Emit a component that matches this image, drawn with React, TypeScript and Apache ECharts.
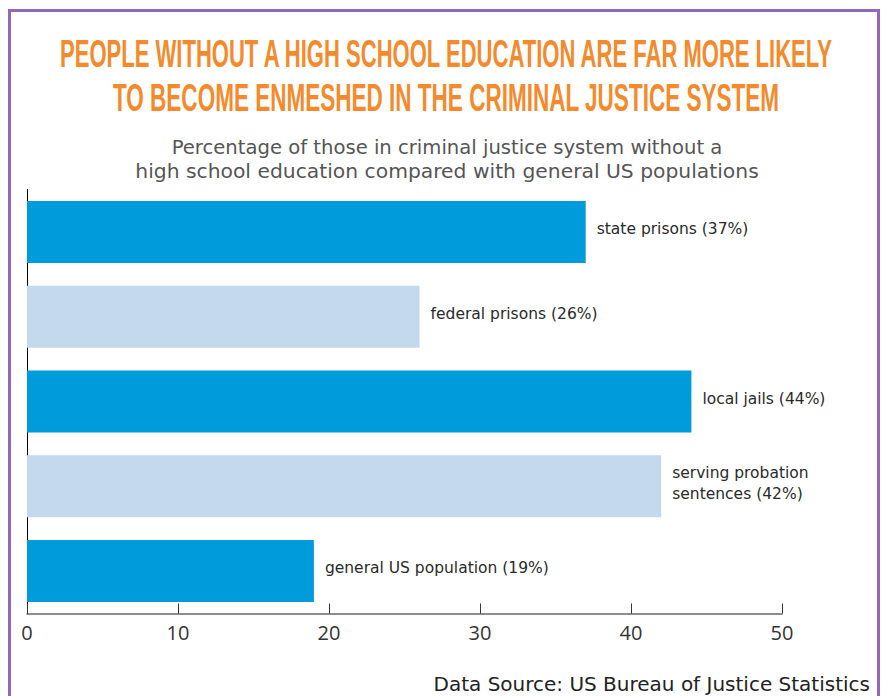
import React, { useEffect, useRef } from "react";
import * as echarts from "echarts";

const categories = ["state prisons", "federal prisons", "local jails", "serving probation sentences", "general US population"];
const values = [37, 26, 44, 42, 19];
const barLabels = ["state prisons (37%)", "federal prisons (26%)", "local jails (44%)", "serving probation\nsentences (42%)", "general US population (19%)"];
const barColors = ["#009BDB", "#C4D9EE", "#009BDB", "#C4D9EE", "#009BDB"];
const titleLines = ["PEOPLE WITHOUT A HIGH SCHOOL EDUCATION ARE FAR MORE LIKELY", "TO BECOME ENMESHED IN THE CRIMINAL JUSTICE SYSTEM"];
const subtitleLines = ["Percentage of those in criminal justice system without a", "high school education compared with general US populations"];
const sourceText = "Data Source: US Bureau of Justice Statistics";

function measure(text: string, font: string): number {
  const c = document.createElement("canvas").getContext("2d");
  if (!c) return 1;
  c.font = font;
  return c.measureText(text).width || 1;
}

export default function App() {
  const ref = useRef<HTMLDivElement>(null);
  useEffect(() => {
    document.body.style.margin = "0";
    if (!ref.current) return;
    const chart = echarts.init(ref.current, null, { renderer: "svg" });
    const titleFont = "bold 38px 'Liberation Sans Narrow', 'Liberation Sans', sans-serif";
    const subFont = "20px 'DejaVu Sans', sans-serif";
    const t1 = 775 / measure(titleLines[0], titleFont);
    const t2 = 667 / measure(titleLines[1], titleFont);
    const s1 = 551 / measure(subtitleLines[0], subFont);
    const s2 = 624 / measure(subtitleLines[1], subFont);
    chart.setOption({
      animation: false,
      grid: { left: 27, right: 103, top: 189.5, bottom: 82.5, containLabel: false },
      xAxis: {
        type: "value",
        min: 0,
        max: 50,
        interval: 10,
        axisLine: { show: true, lineStyle: { color: "#6F645E", width: 1.5 } },
        axisTick: { show: true, inside: true, length: 10, lineStyle: { color: "#333", width: 1 } },
        splitLine: { show: false },
        axisLabel: { fontSize: 20, color: "#333", margin: 9, fontFamily: "'Open Sans', sans-serif" },
      },
      yAxis: {
        type: "category",
        inverse: true,
        data: categories,
        axisLine: { show: true, lineStyle: { color: "#000", width: 1 } },
        axisTick: { show: false },
        axisLabel: { show: false },
      },
      series: [
        {
          type: "bar",
          barWidth: 62,
          data: values.map((v, i) => ({ value: v, itemStyle: { color: barColors[i] } })),
          label: {
            show: true,
            position: "right",
            distance: 11,
            offset: [0, -3],
            color: "#2A2A2A",
            fontSize: 15.5,
            lineHeight: 21,
            fontFamily: "'DejaVu Sans', sans-serif",
            formatter: (p: any) => barLabels[p.dataIndex],
          },
        },
      ],
      graphic: [
        {
          type: "rect",
          shape: { x: 9.5, y: 10.5, width: 869, height: 720 },
          style: { fill: "none", stroke: "#9467B8", lineWidth: 3 },
        },
        {
          type: "text", x: 446, y: 54, scaleX: t1,
          style: { text: titleLines[0], font: titleFont, fill: "#F58A2C", textAlign: "center", textVerticalAlign: "middle" },
        },
        {
          type: "text", x: 446, y: 98, scaleX: t2,
          style: { text: titleLines[1], font: titleFont, fill: "#F58A2C", textAlign: "center", textVerticalAlign: "middle" },
        },
        {
          type: "text", x: 447, y: 147, scaleX: s1,
          style: { text: subtitleLines[0], font: subFont, fill: "#555", textAlign: "center", textVerticalAlign: "middle" },
        },
        {
          type: "text", x: 447, y: 171, scaleX: s2,
          style: { text: subtitleLines[1], font: subFont, fill: "#555", textAlign: "center", textVerticalAlign: "middle" },
        },
        {
          type: "text", x: 870, y: 684,
          style: { text: sourceText, font: "20px 'DejaVu Sans', sans-serif", fill: "#222", textAlign: "right", textVerticalAlign: "middle" },
        },
      ],
    });
    return () => chart.dispose();
  }, []);
  return <div ref={ref} style={{ width: 885, height: 696 }} />;
}
